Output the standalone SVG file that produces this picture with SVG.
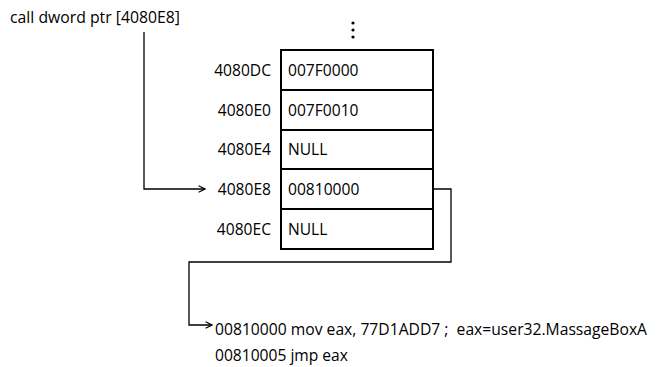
<svg xmlns="http://www.w3.org/2000/svg" width="662" height="367" viewBox="0 0 662 367">
<style>
text{font-family:"Open Sans","Liberation Sans",sans-serif;font-size:15.6px;fill:#000}
.lbl{text-anchor:end}
.cell{fill:#fff;stroke:#000;stroke-width:2}
.conn{fill:none;stroke:#000;stroke-width:1.3}
</style>
<defs>
<marker id="ah" viewBox="0 0 10 10" refX="9" refY="5" markerWidth="8" markerHeight="8" markerUnits="userSpaceOnUse" orient="auto">
<path d="M1,1 L9,5 L1,9" fill="none" stroke="#000" stroke-width="1.4"/>
</marker>
</defs>
<rect width="662" height="367" fill="#fff"/>
<g id="call"><text x="10" y="23" textLength="170" lengthAdjust="spacingAndGlyphs">call dword ptr [4080E8]</text></g>
<g id="dots" fill="#000"><circle cx="353" cy="23" r="1.6"/><circle cx="353" cy="30" r="1.6"/><circle cx="353" cy="37" r="1.6"/></g>
<g id="row1"><rect class="cell" x="281" y="50" width="152" height="40"/><text class="lbl" x="271" y="76">4080DC</text><text x="288" y="76">007F0000</text></g>
<g id="row2"><rect class="cell" x="281" y="90" width="152" height="40"/><text class="lbl" x="271" y="116">4080E0</text><text x="288" y="116">007F0010</text></g>
<g id="row3"><rect class="cell" x="281" y="130" width="152" height="39"/><text class="lbl" x="271" y="155">4080E4</text><text x="288" y="155">NULL</text></g>
<g id="row4"><rect class="cell" x="281" y="169" width="152" height="40"/><text class="lbl" x="271" y="195">4080E8</text><text x="288" y="195">00810000</text></g>
<g id="row5"><rect class="cell" x="281" y="209" width="152" height="40"/><text class="lbl" x="271" y="235">4080EC</text><text x="288" y="235">NULL</text></g>
<g id="code"><text x="215" y="335" xml:space="preserve" style="white-space:pre" textLength="432" lengthAdjust="spacingAndGlyphs">00810000 mov eax, 77D1ADD7 ;  eax=user32.MassageBoxA</text><text x="215" y="361">00810005 jmp eax</text></g>
<g id="connectors">
<path class="conn" d="M144,32 V189 H205" marker-end="url(#ah)"/>
<path class="conn" d="M433,189 H451 V262 H189 V325 H212" marker-end="url(#ah)"/>
</g>
</svg>
